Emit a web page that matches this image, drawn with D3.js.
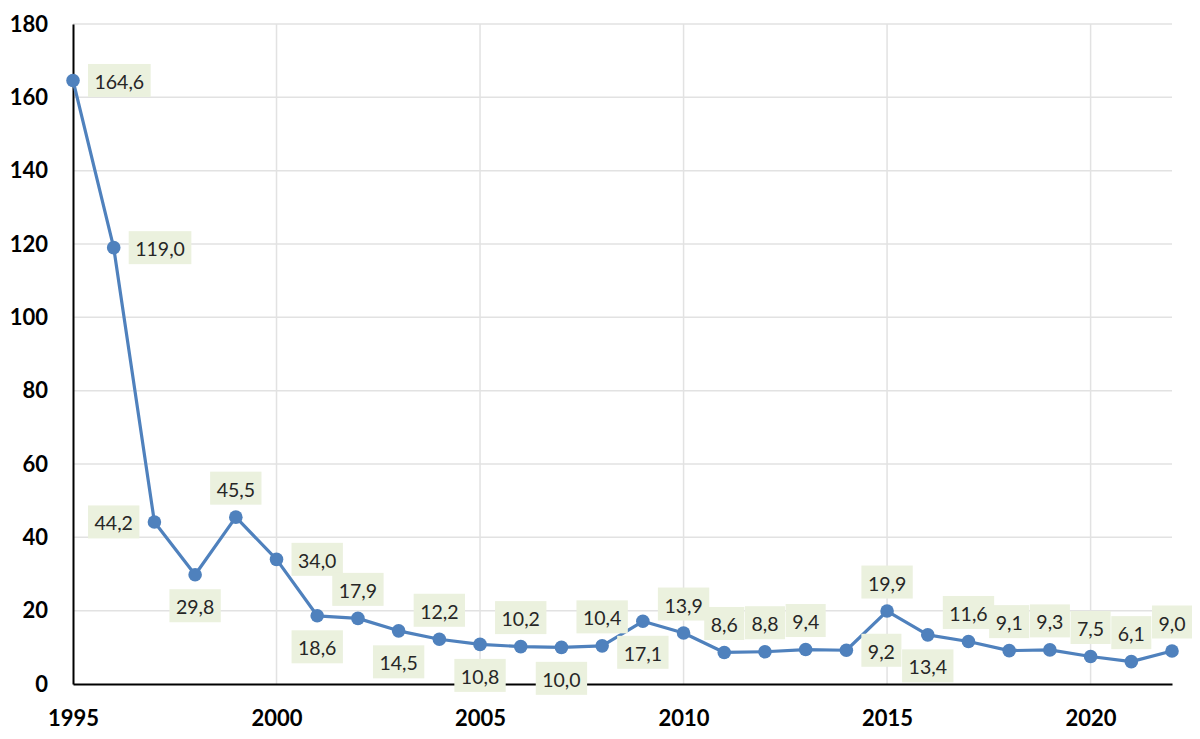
<!DOCTYPE html>
<html><head><meta charset="utf-8">
<script src="https://cdn.jsdelivr.net/npm/d3@7"></script>
<style>body{margin:0;background:#fff}svg{display:block}</style>
</head><body>
<svg id="c" width="1200" height="739"></svg>
<script>
const years = [1995,1996,1997,1998,1999,2000,2001,2002,2003,2004,2005,2006,2007,2008,2009,2010,2011,2012,2013,2014,2015,2016,2017,2018,2019,2020,2021,2022];
const values = [164.6,119.0,44.2,29.8,45.5,34.0,18.6,17.9,14.5,12.2,10.8,10.2,10.0,10.4,17.1,13.9,8.6,8.8,9.4,9.2,19.9,13.4,11.6,9.1,9.3,7.5,6.1,9.0];
const labelPlacement = ["right","right","left","below","above","right","below","above","below","above","below","above","below","above","below","above","above","above","above","right","above","below","above","above","above","above","above","above"];
const yTicks = [0,20,40,60,80,100,120,140,160,180];
const xTicks = [1995,2000,2005,2010,2015,2020];

const svg = d3.select("#c");
const x = d3.scaleLinear().domain([1995,2022]).range([73,1172]);
const y = d3.scaleLinear().domain([0,180]).range([684,24]);
const fmt = v => v.toFixed(1).replace(".", ",");
const font = "Lato, 'Open Sans', sans-serif";

// gridlines
svg.append("g").selectAll("line").data(yTicks.filter(d=>d>0)).join("line")
  .attr("x1", x(1995)).attr("x2", x(2022)).attr("y1", d=>y(d)).attr("y2", d=>y(d))
  .attr("stroke", "#e2e2e2").attr("stroke-width", 1.5);
svg.append("g").selectAll("line").data(xTicks.filter(d=>d>1995)).join("line")
  .attr("x1", d=>x(d)).attr("x2", d=>x(d)).attr("y1", y(0)).attr("y2", y(180))
  .attr("stroke", "#e2e2e2").attr("stroke-width", 1.5);

// axes
const yAxis = svg.append("g").attr("transform", `translate(${x(1995)},0)`)
  .call(d3.axisLeft(y).tickValues(yTicks).tickSize(0).tickPadding(25));
yAxis.select(".domain").attr("stroke", "#000").attr("stroke-width", 2);
yAxis.selectAll("text").attr("font-family", font).attr("font-weight", "bold")
  .attr("font-size", 22).attr("fill", "#000");

const xAxis = svg.append("g").attr("transform", `translate(0,${y(0)})`)
  .call(d3.axisBottom(x).tickValues(xTicks).tickFormat(d3.format("d")).tickSize(0).tickPadding(26));
xAxis.select(".domain").attr("stroke", "#000").attr("stroke-width", 2);
xAxis.selectAll("text").attr("font-family", font).attr("font-weight", "bold")
  .attr("font-size", 22).attr("fill", "#000");

// line
const pts = years.map((yr,i)=>({yr, v: values[i], pos: labelPlacement[i]}));
svg.append("path").datum(pts)
  .attr("d", d3.line().x(d=>x(d.yr)).y(d=>y(d.v)))
  .attr("fill", "none").attr("stroke", "#4f81bd").attr("stroke-width", 3.2)
  .attr("stroke-linejoin", "round");
svg.append("g").selectAll("circle").data(pts).join("circle")
  .attr("cx", d=>x(d.yr)).attr("cy", d=>y(d.v)).attr("r", 6.8).attr("fill", "#4f81bd");

// labels
const lg = svg.append("g");
pts.forEach(d => {
  const g = lg.append("g");
  const t = g.append("text").text(fmt(d.v)).attr("font-family", font)
    .attr("font-size", 19.5).attr("fill", "#262626").attr("text-anchor", "middle")
    .attr("dominant-baseline", "central");
  const w = t.node().getComputedTextLength() + 13, h = 33;
  let cx = x(d.yr), cy = y(d.v);
  if (d.pos === "right") cx += 15 + w/2;
  else if (d.pos === "left") cx -= 15 + w/2;
  else if (d.pos === "above") cy -= 29;
  else cy += 31;
  t.attr("x", cx).attr("y", cy + 1);
  g.insert("rect", "text").attr("x", cx - w/2).attr("y", cy - h/2).attr("width", w).attr("height", h)
    .attr("fill", "#ebf1de");
});
</script>
</body></html>
